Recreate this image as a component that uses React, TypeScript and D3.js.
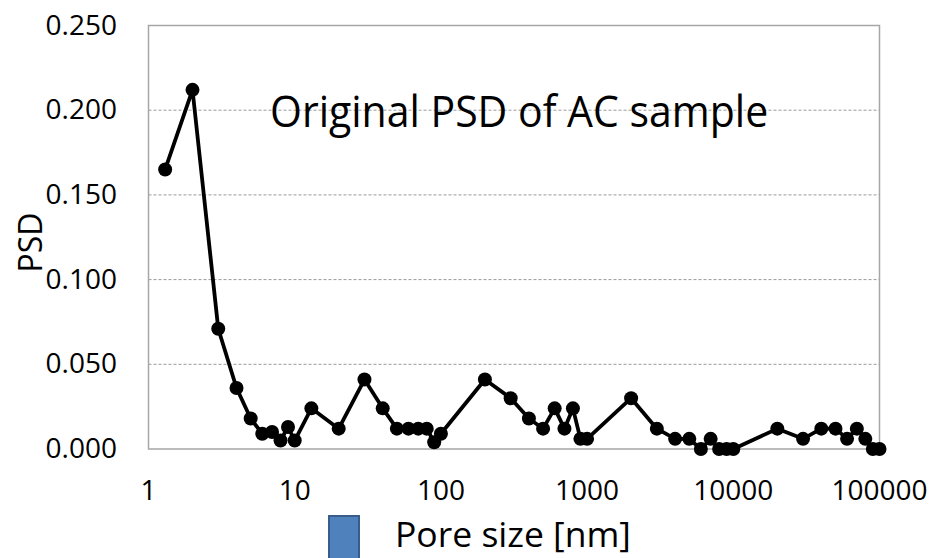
import React from "react";
import * as d3 from "d3";

const poreSizes = [1.3, 2, 3, 4, 5, 6, 7, 8, 9, 10, 13, 20, 30, 40, 50, 60, 70, 80, 90, 100, 200, 300, 400, 500, 600, 700, 800, 900, 1000, 2000, 3000, 4000, 5000, 6000, 7000, 8000, 9000, 10000, 20000, 30000, 40000, 50000, 60000, 70000, 80000, 90000, 100000];
const psdValues = [0.165, 0.212, 0.071, 0.036, 0.018, 0.009, 0.010, 0.005, 0.013, 0.005, 0.024, 0.012, 0.041, 0.024, 0.012, 0.012, 0.012, 0.012, 0.004, 0.009, 0.041, 0.030, 0.018, 0.012, 0.024, 0.012, 0.024, 0.006, 0.006, 0.030, 0.012, 0.006, 0.006, 0.000, 0.006, 0.000, 0.000, 0.000, 0.012, 0.006, 0.012, 0.012, 0.006, 0.012, 0.006, 0.000, 0.000];
const yTicks = [0, 0.05, 0.1, 0.15, 0.2, 0.25];
const xTicks = [1, 10, 100, 1000, 10000, 100000];
const title = "Original PSD of AC sample";
const xTitle = "Pore size [nm]";
const yTitle = "PSD";

export default function App() {
  const W = 933, H = 558;
  const left = 148.5, right = 879.5, top = 25.5, bottom = 449;
  const x = d3.scaleLog().domain([1, 100000]).range([left, right]);
  const y = d3.scaleLinear().domain([0, 0.25]).range([bottom, top]);
  const pts = poreSizes.map((s, i) => [x(s), y(psdValues[i])] as [number, number]);
  const line = d3.line()(pts) || "";
  const font = "'Open Sans', sans-serif";
  return (
    <svg width={W} height={H} style={{ position: "absolute", left: 0, top: 0, background: "#fff" }} fontFamily={font}>
      <rect x={0} y={0} width={W} height={H} fill="#fff" />
      {yTicks.filter(t => t > 0 && t < 0.25).map(t => (
        <line key={t} x1={left} x2={right} y1={y(t)} y2={y(t)} stroke="#9a9a9a" strokeWidth={1} strokeDasharray="3,2" />
      ))}
      <rect x={left} y={top} width={right - left} height={bottom - top} fill="none" stroke="#a6a6a6" strokeWidth={1.5} />
      {yTicks.map(t => (
        <text key={t} x={117} y={y(t) + 9} textAnchor="end" fontSize={28} fill="#000">{d3.format(".3f")(t)}</text>
      ))}
      {xTicks.map(t => (
        <text key={t} x={x(t)} y={500} textAnchor="middle" fontSize={28} fill="#000">{String(t)}</text>
      ))}
      <text transform={`translate(42,242.5) rotate(-90)`} textAnchor="middle" fontSize={32} fill="#000">{yTitle}</text>
      <path d={line} fill="none" stroke="#000" strokeWidth={3.8} strokeLinejoin="round" />
      {pts.map((p, i) => (
        <circle key={i} cx={p[0]} cy={p[1]} r={7} fill="#000" />
      ))}
      <text transform="translate(270,126.5) scale(1,1.08)" fontSize={41} fill="#000">{title}</text>
      <rect x={329} y={516} width={30} height={50} fill="#4f81bd" stroke="#385d8a" strokeWidth={2} />
      <text transform="translate(395,547)" fontSize={35.5} fill="#000">{xTitle}</text>
    </svg>
  );
}
